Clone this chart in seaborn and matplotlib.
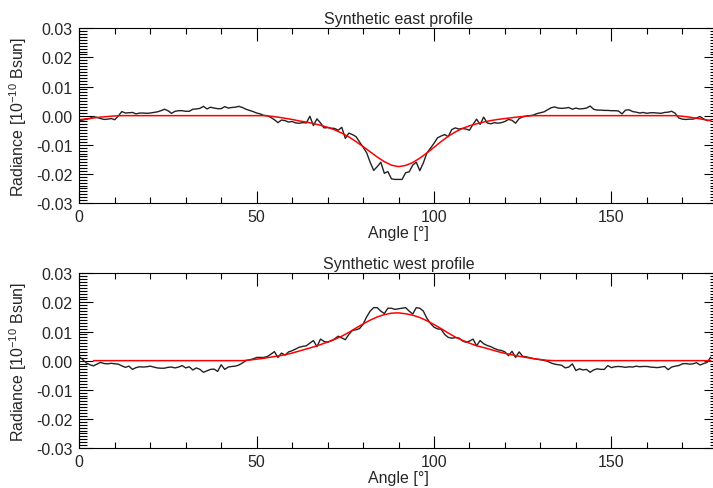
import numpy as np
import matplotlib
matplotlib.use('Agg')
import matplotlib.pyplot as plt
from matplotlib.ticker import MultipleLocator
import seaborn as sns

# angles of the measured profiles (1 deg steps) and of the fitted curves (2 deg steps)
angle = np.arange(0, 179, 1)
fit_angle_east = np.arange(0, 179, 2)
fit_angle_west = np.arange(4, 179, 2)

# east profile, measured (black)
east_profile = [
    -0.0017, -0.0015, -0.0012, -0.0010, -0.0003, -0.0006, -0.0010, -0.0013, -0.0012, -0.0010,
    -0.0014, -0.0001, 0.0014, 0.0009, 0.0010, 0.0011, 0.0006, 0.0009, 0.0009, 0.0008,
    0.0009, 0.0011, 0.0013, 0.0017, 0.0022, 0.0017, 0.0008, 0.0015, 0.0017, 0.0017,
    0.0015, 0.0015, 0.0022, 0.0023, 0.0025, 0.0032, 0.0023, 0.0029, 0.0026, 0.0024,
    0.0024, 0.0031, 0.0026, 0.0028, 0.0029, 0.0032, 0.0028, 0.0022, 0.0018, 0.0014,
    0.0009, 0.0006, 0.0001, 0.0000, -0.0006, -0.0014, -0.0024, -0.0015, -0.0017, -0.0022,
    -0.0020, -0.0025, -0.0026, -0.0024, -0.0025, -0.0002, -0.0034, -0.0011, -0.0025, -0.0042,
    -0.0041, -0.0043, -0.0044, -0.0050, -0.0040, -0.0078, -0.0060, -0.0065, -0.0072, -0.0090,
    -0.0108, -0.0127, -0.0160, -0.0188, -0.0175, -0.0160, -0.0198, -0.0192, -0.0217, -0.0219,
    -0.0219, -0.0219, -0.0196, -0.0193, -0.0170, -0.0160, -0.0189, -0.0162, -0.0128, -0.0112,
    -0.0095, -0.0076, -0.0070, -0.0065, -0.0072, -0.0048, -0.0042, -0.0046, -0.0044, -0.0046,
    -0.0050, -0.0030, -0.0012, -0.0030, -0.0005, -0.0025, -0.0028, -0.0024, -0.0026, -0.0024,
    -0.0020, -0.0013, -0.0016, -0.0026, -0.0010, -0.0004, -0.0001, 0.0000, 0.0002, 0.0007,
    0.0010, 0.0013, 0.0020, 0.0027, 0.0030, 0.0026, 0.0025, 0.0026, 0.0028, 0.0022,
    0.0026, 0.0023, 0.0024, 0.0026, 0.0033, 0.0022, 0.0019, 0.0019, 0.0018, 0.0018,
    0.0017, 0.0017, 0.0016, 0.0006, 0.0019, 0.0020, 0.0014, 0.0012, 0.0009, 0.0011,
    0.0008, 0.0010, 0.0010, 0.0009, 0.0008, 0.0011, 0.0012, 0.0015, 0.0008, -0.0008,
    -0.0012, -0.0013, -0.0012, -0.0012, -0.0008, -0.0003, -0.0011, -0.0017, -0.0016,
]

# east profile, fitted (red)
east_fit = [
    -0.0014, -0.0011, -0.0008, -0.0005, -0.0003, -0.0001,
    0.0, 0.0, 0.0, 0.0, 0.0, 0.0, 0.0, 0.0, 0.0, 0.0,
    0.0, 0.0, 0.0, 0.0, 0.0, 0.0, 0.0, 0.0, 0.0, 0.0, 0.0,
    -0.0002, -0.0005, -0.0009, -0.0013, -0.0018, -0.0022, -0.0027, -0.0033, -0.0040, -0.0049,
    -0.0060, -0.0073, -0.0089, -0.0106, -0.0124, -0.0142, -0.0158, -0.0170, -0.0175, -0.0171,
    -0.0161, -0.0146, -0.0128, -0.0109, -0.0089, -0.0071, -0.0056, -0.0044, -0.0035, -0.0028,
    -0.0022, -0.0017, -0.0013, -0.0010, -0.0007, -0.0004, -0.0002,
    0.0, 0.0, 0.0, 0.0, 0.0, 0.0, 0.0, 0.0, 0.0, 0.0,
    0.0, 0.0, 0.0, 0.0, 0.0, 0.0, 0.0, 0.0, 0.0, 0.0, 0.0,
    -0.0002, -0.0005, -0.0009, -0.0013, -0.0017,
]

# west profile, measured (black)
west_profile = [
    0.0014, 0.0003, -0.0008, -0.0014, -0.0018, -0.0012, -0.0006, -0.0010, -0.0011, -0.0009,
    -0.0011, -0.0012, -0.0018, -0.0023, -0.0019, -0.0030, -0.0024, -0.0021, -0.0022, -0.0021,
    -0.0019, -0.0022, -0.0025, -0.0026, -0.0026, -0.0023, -0.0022, -0.0025, -0.0022, -0.0017,
    -0.0025, -0.0021, -0.0032, -0.0025, -0.0030, -0.0040, -0.0035, -0.0030, -0.0029, -0.0037,
    -0.0014, -0.0030, -0.0022, -0.0020, -0.0019, -0.0015, -0.0008, 0.0000, 0.0003, 0.0006,
    0.0011, 0.0011, 0.0011, 0.0014, 0.0022, 0.0031, 0.0011, 0.0026, 0.0019, 0.0030,
    0.0034, 0.0040, 0.0046, 0.0049, 0.0051, 0.0060, 0.0069, 0.0048, 0.0074, 0.0066,
    0.0063, 0.0068, 0.0075, 0.0084, 0.0078, 0.0072, 0.0090, 0.0104, 0.0106, 0.0110,
    0.0125, 0.0150, 0.0170, 0.0182, 0.0182, 0.0170, 0.0162, 0.0180, 0.0180, 0.0176,
    0.0178, 0.0180, 0.0182, 0.0170, 0.0160, 0.0182, 0.0180, 0.0170, 0.0145, 0.0128,
    0.0115, 0.0109, 0.0108, 0.0090, 0.0080, 0.0077, 0.0079, 0.0078, 0.0068, 0.0063,
    0.0067, 0.0074, 0.0051, 0.0069, 0.0058, 0.0052, 0.0048, 0.0042, 0.0037, 0.0035,
    0.0030, 0.0017, 0.0032, 0.0011, 0.0030, 0.0015, 0.0013, 0.0010, 0.0007, 0.0005,
    0.0003, 0.0001, -0.0002, -0.0008, -0.0012, -0.0014, -0.0016, -0.0025, -0.0022, -0.0011,
    -0.0034, -0.0028, -0.0032, -0.0030, -0.0040, -0.0032, -0.0028, -0.0030, -0.0030, -0.0017,
    -0.0024, -0.0021, -0.0020, -0.0021, -0.0023, -0.0021, -0.0022, -0.0019, -0.0021, -0.0020,
    -0.0020, -0.0022, -0.0023, -0.0024, -0.0022, -0.0020, -0.0031, -0.0022, -0.0019, -0.0017,
    -0.0011, -0.0010, -0.0012, -0.0011, -0.0007, -0.0015, -0.0010, -0.0006, 0.0012,
]

# west profile, fitted (red)
west_fit = [
    0.0, 0.0, 0.0, 0.0, 0.0, 0.0, 0.0, 0.0, 0.0, 0.0, 0.0,
    0.0, 0.0, 0.0, 0.0, 0.0, 0.0, 0.0, 0.0, 0.0, 0.0, 0.0,
    0.0002, 0.0005, 0.0008, 0.0012, 0.0016, 0.0020, 0.0026, 0.0033, 0.0040, 0.0047,
    0.0055, 0.0064, 0.0073, 0.0084, 0.0097, 0.0112, 0.0126, 0.0139, 0.0150, 0.0158,
    0.0163, 0.0164, 0.0161, 0.0156, 0.0148, 0.0137, 0.0124, 0.0110, 0.0095, 0.0081,
    0.0070, 0.0060, 0.0051, 0.0045, 0.0038, 0.0031, 0.0025, 0.0020, 0.0015, 0.0011,
    0.0007, 0.0004, 0.0001,
    0.0, 0.0, 0.0, 0.0, 0.0, 0.0, 0.0, 0.0, 0.0, 0.0, 0.0, 0.0,
    0.0, 0.0, 0.0, 0.0, 0.0, 0.0, 0.0, 0.0, 0.0, 0.0, 0.0,
]

titles = ['Synthetic east profile', 'Synthetic west profile']
x_ticks = [0, 50, 100, 150]
x_tick_labels = ['0', '50', '100', '150']
y_ticks = [-0.03, -0.02, -0.01, 0.0, 0.01, 0.02, 0.03]
y_tick_labels = ['-0.03', '-0.02', '-0.01', '0.00', '0.01', '0.02', '0.03']

sns.set_style('ticks')
plt.rcParams['font.family'] = ['Liberation Sans', 'DejaVu Sans']
plt.rcParams['mathtext.default'] = 'regular'
plt.rcParams['axes.unicode_minus'] = False

fig = plt.figure(figsize=(7.13, 4.89), dpi=100)
# x range 0..180 runs a little past the right edge of the picture, as in the original
ax_top = fig.add_axes([0.1112, 0.5828, 0.8955, 0.3573])
ax_bot = fig.add_axes([0.1112, 0.0818, 0.8955, 0.3573])

panels = [
    (ax_top, east_profile, fit_angle_east, east_fit, titles[0]),
    (ax_bot, west_profile, fit_angle_west, west_fit, titles[1]),
]

fs = 11.5
for ax, prof, fa, fit, title in panels:
    sns.lineplot(x=angle, y=prof, ax=ax, color='#222222', linewidth=1.0, estimator=None)
    sns.lineplot(x=fa, y=fit, ax=ax, color='#ff0000', linewidth=1.1, estimator=None)
    ax.set_xlim(0, 180)
    ax.set_ylim(-0.03, 0.03)
    ax.set_xticks(x_ticks)
    ax.set_xticklabels(x_tick_labels)
    ax.set_yticks(y_ticks)
    ax.set_yticklabels(y_tick_labels)
    ax.xaxis.set_minor_locator(MultipleLocator(10))
    ax.yaxis.set_minor_locator(MultipleLocator(0.001))
    ax.tick_params(which='both', direction='in', top=True, right=True,
                   width=0.8, color='black', labelsize=fs)
    ax.tick_params(axis='x', which='major', length=9, pad=4)
    ax.tick_params(axis='x', which='minor', length=4.5)
    ax.tick_params(axis='y', which='major', length=10, pad=5)
    ax.tick_params(axis='y', which='minor', length=5.8)
    for sp in ax.spines.values():
        sp.set_linewidth(0.8)
        sp.set_color('black')
    ax.set_title(title, fontsize=fs, pad=4)
    ax.set_xlabel('Angle [°]', fontsize=fs, labelpad=1)
    ax.set_ylabel('Radiance [10$^{-10}$ Bsun]', fontsize=fs, labelpad=5)

fig.savefig('out.png', dpi=100)
